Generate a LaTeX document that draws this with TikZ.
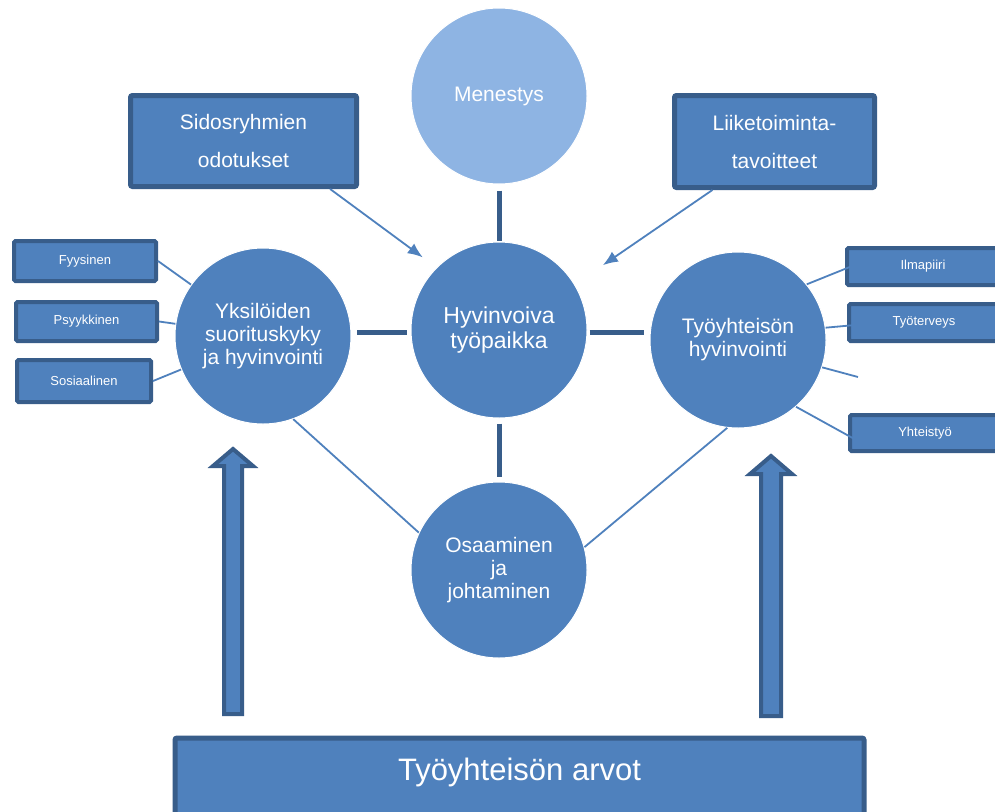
\documentclass[tikz,border=0pt]{standalone}
\usepackage{fontspec}
\setmainfont{Liberation Sans}
\usetikzlibrary{arrows.meta}
\definecolor{fillblue}{HTML}{4F81BD}
\definecolor{darkblue}{HTML}{385D8A}
\definecolor{lightblue}{HTML}{8EB4E3}
\tikzset{
  circ/.style={circle, minimum size=176pt, inner sep=0pt, fill=fillblue, draw=white, line width=1pt,
    text=white, align=center, font=\fontsize{21}{23}\selectfont},
  bigbox/.style={rectangle, rounded corners=2pt, fill=fillblue, draw=darkblue, line width=5pt,
    text=white, align=center, inner sep=0pt, font=\fontsize{21}{38}\selectfont},
  smallbox/.style={rectangle, rounded corners=1.5pt, fill=fillblue, draw=darkblue, line width=4pt,
    text=white, align=center, inner sep=0pt, font=\fontsize{13}{15}\selectfont},
  thickconn/.style={draw=darkblue, line width=5pt},
  thinconn/.style={draw=fillblue, line width=1.8pt},
  arrconn/.style={draw=fillblue, line width=1.8pt, -{Latex[length=15pt,width=12pt]}},
  uparrow/.style={fill=fillblue, draw=darkblue, line width=4pt, line join=miter}
}
\begin{document}
\begin{tikzpicture}[x=1pt, y=-1pt]
\useasboundingbox (0,0) rectangle (995,811);
\clip (0,0) rectangle (995,811);
\fill[white] (0,0) rectangle (995,811);

% boxes
\node[bigbox, minimum width=226pt, minimum height=91pt] (sid) at (243.5,141) {Sidosryhmien\\odotukset};
\node[bigbox, minimum width=200pt, minimum height=92pt] (lii) at (774.5,141.5) {Liiketoiminta-\\tavoitteet};
\node[smallbox, minimum width=142pt, minimum height=40pt] (fyy) at (85,261) {Fyysinen};
\node[smallbox, minimum width=141pt, minimum height=39pt] (psy) at (86.5,321.5) {Psyykkinen};
\node[smallbox, minimum width=134pt, minimum height=42pt] (sos) at (84,381) {Sosiaalinen};
\node[smallbox, minimum width=152pt, minimum height=37pt] (ilm) at (923,266.5) {Ilmapiiri};
\node[smallbox, minimum width=150pt, minimum height=37pt] (tyt) at (924,322.5) {Työterveys};
\node[smallbox, minimum width=150pt, minimum height=36pt] (yht) at (925,433) {Yhteistyö};
\node[bigbox, minimum width=689pt, minimum height=105pt, anchor=north, text depth=42pt, text height=22pt,
  font=\fontsize{31}{33}\selectfont] (arvot) at (519.5,735.5) {Työyhteisön arvot};

% circles
\node[circ, fill=lightblue] (men) at (499,96) {Menestys};
\node[circ, font=\fontsize{23}{25}\selectfont] (hyv) at (499,330) {Hyvinvoiva\\työpaikka};
\node[circ] (yks) at (263,336) {Yksilöiden\\suorituskyky\\ja hyvinvointi};
\node[circ] (tyo) at (738,340) {Työyhteisön\\hyvinvointi};
\node[circ] (osa) at (499,570) {Osaaminen\\ja\\johtaminen};

% thick connectors
\draw[thickconn] ([yshift=-6pt]men.south) -- ([yshift=1pt]hyv.north);
\draw[thickconn] ([yshift=-5pt]hyv.south) -- ([yshift=5pt]osa.north);
\draw[thickconn] ([xshift=-4pt,yshift=-2pt]hyv.west) -- ([xshift=5pt,yshift=-2pt]hyv.west -| yks.east);
\draw[thickconn] ([xshift=2pt,yshift=-2pt]hyv.east) -- ([xshift=-6pt,yshift=-2pt]hyv.east -| tyo.west);

% thin connectors
\draw[thinconn] (yks.-70) -- (osa.155);
\draw[thinconn] (tyo.-97) -- (osa.15);
\draw[thinconn] (fyy.east) -- (yks);
\draw[thinconn] (psy.east) -- (yks);
\draw[thinconn] (sos.east) -- (yks);
\draw[thinconn] (tyo.39) -- ([xshift=6pt]ilm.west);
\draw[thinconn] (tyo.8) -- ([xshift=36pt]tyt.west);
\coordinate (free) at (858,377);
\draw[thinconn] (tyo.-18) -- (free);
\draw[thinconn] (tyo.-49) -- ([xshift=10pt,yshift=-8pt]yht.west);

% arrows into centre
\draw[arrconn, shorten >=17pt] (sid.-29) -- (hyv.135);
\draw[arrconn, shorten >=34pt] (lii.218) -- (hyv.31);

% big up arrows
\draw[uparrow] (233,449) -- (253,466) -- (242,466) -- (242,714) -- (224,714) -- (224,466) -- (213,466) -- cycle;
\draw[uparrow] (771,456) -- (792,474) -- (781,474) -- (781,716) -- (761,716) -- (761,474) -- (750,474) -- cycle;
\end{tikzpicture}
\end{document}
